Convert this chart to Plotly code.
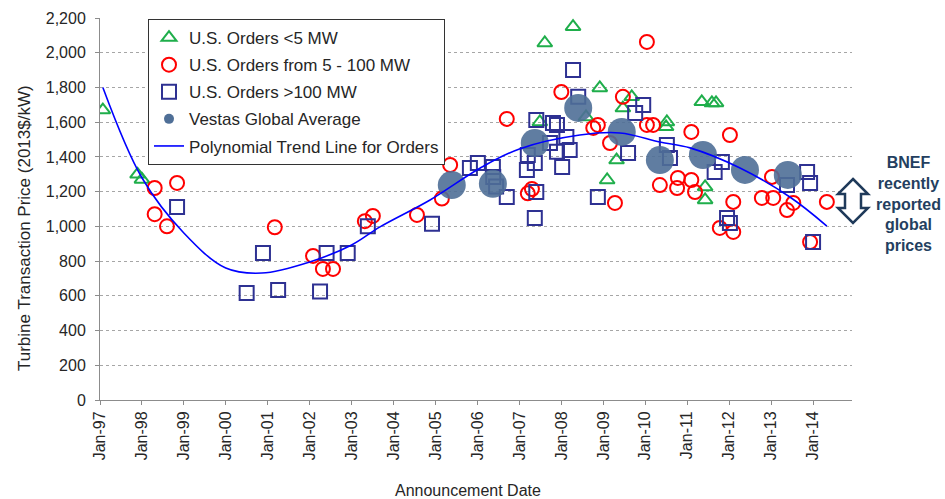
import plotly.graph_objects as go

# ---- data -------------------------------------------------------------
small_dates = ["1997-01-26", "1997-11-24", "1998-01-01", "2007-06-28", "2007-08-10",
               "2008-04-12", "2008-08-03", "2008-12-01", "2009-02-03", "2009-04-26",
               "2009-06-20", "2009-09-05", "2010-07-08", "2010-07-01", "2011-05-08",
               "2011-06-06", "2011-06-06", "2011-08-04", "2011-09-09"]
small_prices = [1670, 1300, 1270, 1601, 2056,
                2150, 1630, 1797, 1267, 1382,
                1681, 1746, 1601, 1573, 1717,
                1227, 1152, 1711, 1711]

mid_dates = ["1998-04-22", "1998-11-03", "1998-04-22", "1998-08-07", "2001-03-03",
             "2002-01-30", "2002-04-26", "2002-07-23", "2003-04-26", "2003-07-05",
             "2004-07-23", "2005-02-25", "2005-05-08", "2006-09-13", "2007-03-15",
             "2007-04-20", "2008-01-01", "2008-10-05", "2008-11-14", "2009-02-28",
             "2009-04-12", "2009-06-20", "2010-01-15", "2010-01-15", "2010-03-10",
             "2010-05-08", "2010-10-12", "2010-10-05", "2011-02-06", "2011-03-10",
             "2011-02-06", "2012-01-08", "2012-02-06", "2011-10-12", "2012-02-06",
             "2012-10-12", "2013-01-08", "2013-01-19", "2013-05-19", "2013-07-13",
             "2014-05-01", "2013-12-06"]
mid_prices = [1221, 1250, 1070, 1000, 995,
              830, 755, 755, 1030, 1060,
              1066, 1160, 1354, 1619, 1190,
              1215, 1774, 1567, 1584, 1480,
              1135, 1746, 2062, 1584, 1584,
              1238, 1279, 1221, 1267, 1198,
              1544, 1526, 1141, 991, 968,
              1164, 1285, 1164, 1094, 1135,
              1141, 910]

large_dates = ["1998-11-03", "2000-07-01", "2000-11-20", "2001-04-01", "2002-04-01",
               "2002-05-28", "2002-11-28", "2003-05-22", "2004-12-01", "2005-10-27",
               "2006-01-04", "2006-05-15", "2006-05-18", "2006-06-12", "2006-09-13",
               "2007-05-28", "2007-03-15", "2007-03-07", "2007-05-15", "2007-05-28",
               "2007-05-15", "2007-10-20", "2007-11-24", "2007-09-24", "2007-11-24",
               "2008-01-08", "2008-02-14", "2008-03-14", "2008-04-12", "2008-05-27",
               "2008-11-14", "2009-08-04", "2009-10-05", "2009-12-14", "2010-07-08",
               "2010-08-04", "2011-10-30", "2011-08-28", "2011-12-14", "2012-01-08",
               "2013-11-10", "2013-12-06", "2013-05-19", "2014-01-01"]
large_prices = [1112, 616, 847, 634, 625,
                847, 847, 1000, 1015, 1336,
                1365, 1342, 1285, 1230, 1169,
                1613, 1411, 1325, 1365, 1198,
                1048, 1596, 1584, 1480, 1429,
                1342, 1515, 1440, 1901, 1746,
                1169, 1423, 1653, 1699, 1469,
                1394, 1371, 1313, 1048, 1020,
                1313, 1250, 1238, 910]

vestas_dates = ["2005-05-22", "2006-05-15", "2007-05-15", "2008-05-27", "2009-06-10",
                "2010-05-08", "2011-05-18", "2012-05-18", "2013-05-26"]
vestas_prices = [1238, 1245, 1480, 1682, 1544, 1382, 1411, 1325, 1296]

trend_dates = ["1997-01-26", "1998-01-01", "1999-01-01", "2000-01-01", "2000-11-10",
               "2002-01-01", "2003-01-01", "2003-09-05", "2004-11-14", "2006-01-22",
               "2007-01-01", "2008-06-10", "2009-05-26", "2010-05-08", "2011-01-26",
               "2012-04-05", "2013-06-13", "2014-05-01"]
trend_prices = [1800, 1280, 962, 760, 731,
                795, 893, 997, 1152, 1335,
                1446, 1526, 1538, 1486, 1452,
                1336, 1169, 1002]

# ---- layout geometry (pixels) ----------------------------------------
W, H = 945, 499
L, R, T, B = 100, 93, 18, 99
PW, PH = W - L - R, H - T - B


def px(x):
    return (x - L) / PW


def py(y):
    return (H - B - y) / PH


FONT = "Liberation Sans, Arial, sans-serif"
TXT = "#262626"
VESTAS = "#4f6f97"

fig = go.Figure()

fig.add_trace(go.Scatter(
    x=small_dates, y=small_prices, mode="markers", name="U.S. Orders <5 MW",
    legendgroup="a",
    marker=dict(symbol="triangle-up-open", size=13, color="#1fae4b",
                line=dict(width=2, color="#1fae4b"))))
fig.add_trace(go.Scatter(
    x=mid_dates, y=mid_prices, mode="markers", name="U.S. Orders from 5 - 100 MW",
    legendgroup="b",
    marker=dict(symbol="circle-open", size=14, color="#ff0000",
                line=dict(width=2, color="#ff0000"))))
fig.add_trace(go.Scatter(
    x=large_dates, y=large_prices, mode="markers", name="U.S. Orders >100 MW",
    legendgroup="c",
    marker=dict(symbol="square-open", size=14, color="#2e3192",
                line=dict(width=2, color="#2e3192"))))
fig.add_trace(go.Scatter(
    x=vestas_dates, y=vestas_prices, mode="markers", name="Vestas Global Average",
    legendgroup="d", showlegend=False, opacity=0.9,
    marker=dict(symbol="circle", size=28, color=VESTAS, line=dict(width=0))))
# legend key for the Vestas series, drawn at a small size
fig.add_trace(go.Scatter(
    x=[None], y=[None], mode="markers", name="Vestas Global Average",
    legendgroup="d",
    marker=dict(symbol="circle", size=10, color=VESTAS, line=dict(width=0))))
fig.add_trace(go.Scatter(
    x=trend_dates, y=trend_prices, mode="lines",
    name="Polynomial Trend Line for Orders", legendgroup="e",
    line=dict(color="#0000ff", width=1.6, shape="spline", smoothing=1.0)))

# double-headed outline arrow beside the plot
arrow_pts = [(853, 179), (868, 194), (861, 194), (861, 208), (868, 208), (853, 223),
             (838, 208), (845, 208), (845, 194), (838, 194)]
path = "M " + " L ".join(f"{px(x):.5f},{py(y):.5f}" for x, y in arrow_pts) + " Z"
fig.add_shape(type="path", path=path, xref="paper", yref="paper",
              line=dict(color="#1f3a5a", width=2.5), fillcolor="white", layer="above")

fig.add_annotation(
    text="<b>BNEF<br>recently<br>reported<br>global<br>prices</b>",
    xref="paper", yref="paper", x=px(908), y=py(204), xanchor="center", yanchor="middle",
    showarrow=False, align="center",
    font=dict(family=FONT, size=16, color="#243f60"))

fig.add_annotation(
    text="Turbine Transaction Price (2013$/kW)", textangle=-90,
    xref="paper", yref="paper", x=px(24), y=py(228), xanchor="center", yanchor="middle",
    showarrow=False, font=dict(family=FONT, size=17, color=TXT))

fig.add_annotation(
    text="Announcement Date",
    xref="paper", yref="paper", x=px(468), y=py(490), xanchor="center", yanchor="middle",
    showarrow=False, font=dict(family=FONT, size=16, color=TXT))

fig.update_layout(
    width=W, height=H,
    margin=dict(l=L, r=R, t=T, b=B, autoexpand=False),
    paper_bgcolor="white", plot_bgcolor="white",
    font=dict(family=FONT, size=16, color=TXT),
    showlegend=True,
    legend=dict(
        x=px(148), y=py(19), xanchor="left", yanchor="top",
        bgcolor="white", bordercolor="#333333", borderwidth=1,
        font=dict(family=FONT, size=17, color=TXT),
        traceorder="grouped", tracegroupgap=2, itemsizing="trace",
    ),
    xaxis=dict(
        type="date", range=["1997-01-01", "2014-12-06"],
        tick0="1997-01-01", dtick="M12", tickformat="%b-%y", tickangle=-90,
        showgrid=False, showline=True, linecolor="#8c8c8c", linewidth=1,
        ticks="outside", ticklen=4, tickcolor="#8c8c8c",
        tickfont=dict(family=FONT, size=16, color=TXT), zeroline=False,
    ),
    yaxis=dict(
        range=[0, 2200], dtick=200, tickformat=",",
        showgrid=True, gridcolor="#a6a6a6", griddash="dot", gridwidth=1,
        showline=True, linecolor="#8c8c8c", linewidth=1,
        ticks="outside", ticklen=4, tickcolor="#8c8c8c",
        tickfont=dict(family=FONT, size=16, color=TXT), zeroline=False,
        ticklabelstandoff=6,
    ),
)

fig.write_html("out.html")
